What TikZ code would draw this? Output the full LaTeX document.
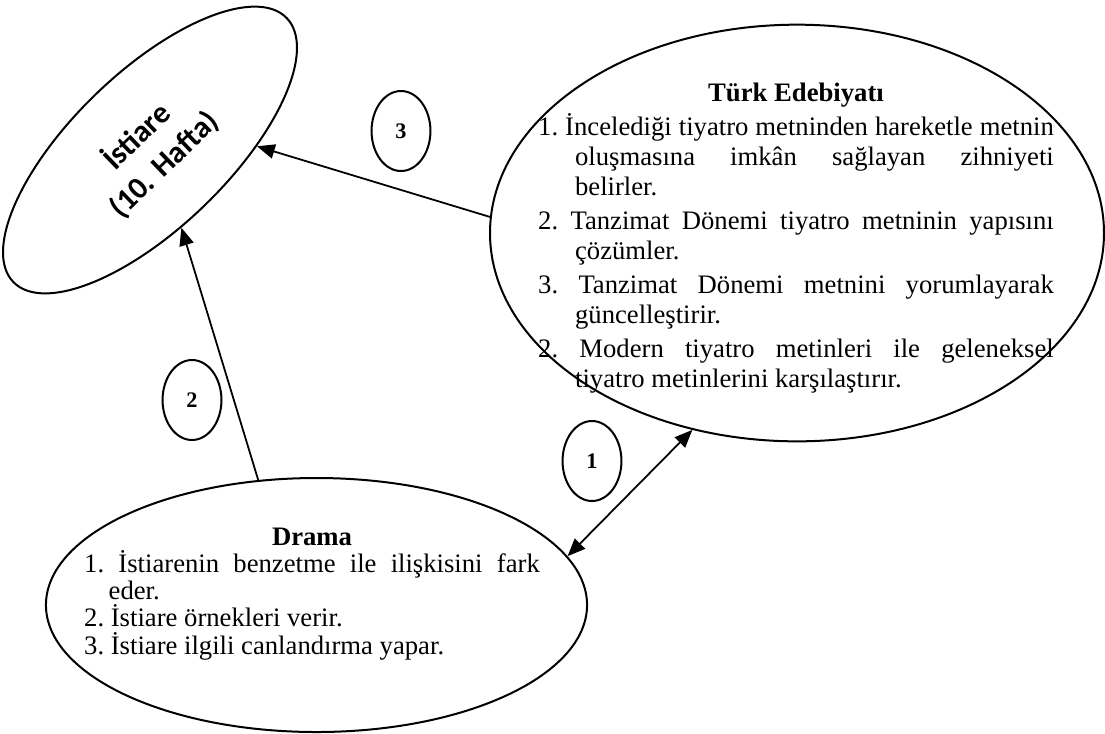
\documentclass[tikz,border=0pt]{standalone}
\usepackage{fontspec}
\setmainfont{Liberation Serif}
\newfontfamily\labelfont{Carlito}
\usetikzlibrary{arrows.meta,shapes.geometric}

\newcommand{\hitem}[3][1.8pt]{\par\vspace{#1}\hangindent=#2\hangafter=1 #3}

\begin{document}
\begin{tikzpicture}[
  x=0.45pt, y=-0.45pt,
  tri/.tip={Triangle[length=8pt, width=6.5pt]},
  oval/.style={ellipse, draw, line width=0.9pt, inner sep=0pt},
  badge/.style={ellipse, draw, line width=0.9pt, inner sep=0pt,
                minimum width=26.5pt, minimum height=36pt, font=\bfseries},
  goal/.style={align=justify, inner sep=0pt, font=\fontsize{12}{13.5}\selectfont},
  link/.style={line width=0.8pt, -tri},
]
\useasboundingbox (0,0) rectangle (1105,733);

\node[oval, rotate=44, minimum width=171pt, minimum height=70pt, align=center,
      font=\labelfont\bfseries\fontsize{14}{17.5}\selectfont] (istiare) at (150,150)
  {İstiare\\(10. Hafta)};
\node[oval, minimum width=276.3pt, minimum height=187.5pt] (turk) at (797,233) {};
\node[oval, minimum width=243.5pt, minimum height=114.3pt] (drama) at (316.5,605) {};

\node[goal, text width=232pt] (turktxt) at (796,238) {\frenchspacing\tolerance=9999\hyphenpenalty=10000
  {\centering\textbf{Türk Edebiyatı}\par}
  \hitem{16.6pt}{1. İncelediği tiyatro metninden hareketle metnin\linebreak
    oluşmasına imkân sağlayan zihniyeti\linebreak belirler.}
  \hitem{16.6pt}{2. Tanzimat Dönemi tiyatro metninin yapısını\linebreak çözümler.}
  \hitem{16.6pt}{3. Tanzimat Dönemi metnini yorumlayarak\linebreak güncelleştirir.}
  \hitem{16.6pt}{2. Modern tiyatro metinleri ile geleneksel\linebreak
    tiyatro metinlerini karşılaştırır.}\par};

\node[goal, text width=205pt, font=\fontsize{12}{12.2}\selectfont] (dramatxt) at (312,594)
  {\frenchspacing\tolerance=9999\hyphenpenalty=10000
  {\centering\textbf{Drama}\par}
  \hitem[0pt]{11pt}{1. İstiarenin benzetme ile ilişkisini fark\linebreak eder.}
  \hitem[0pt]{11pt}{2. İstiare örnekleri verir.}
  \hitem[0pt]{11pt}{3. İstiare ilgili canlandırma yapar.}\par};

\node[badge] (n3) at (401,131) {3};
\node[badge] (n2) at (192,400) {2};
\node[badge] (n1) at (592,461) {1};

\draw[link] (turk.177) -- (istiare.-42);
\draw[link] (drama.115) -- (istiare.-112);
\draw[link, tri-tri] (drama.11) -- (turk.-118);

\end{tikzpicture}
\end{document}
